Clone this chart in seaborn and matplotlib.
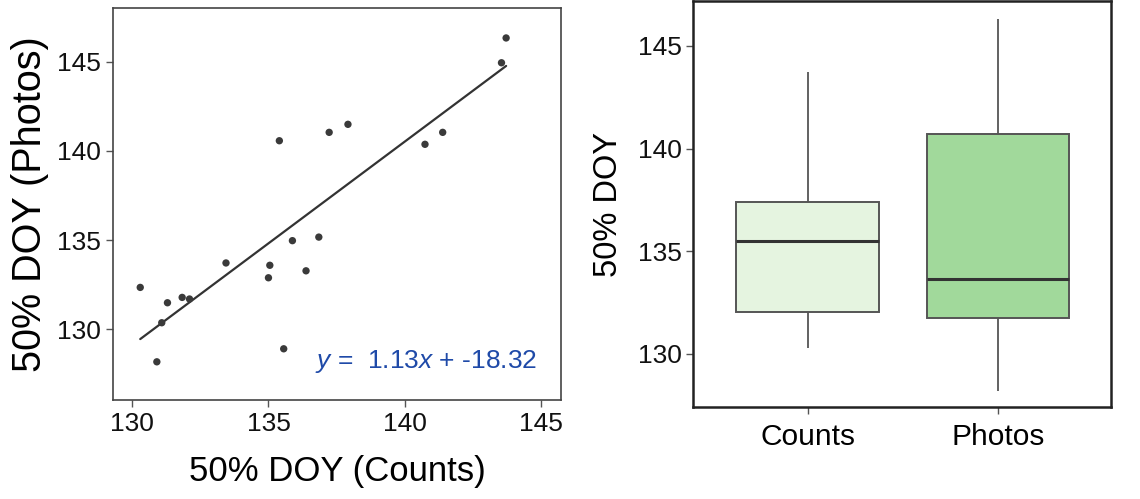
import numpy as np
import pandas as pd
import matplotlib
matplotlib.use("Agg")
import matplotlib.pyplot as plt
import seaborn as sns

# ---- data ----
counts_doy = [130.29, 130.90, 131.08, 131.29, 131.83, 132.10, 133.44, 135.00, 135.05, 135.40,
              135.56, 135.88, 136.38, 136.85, 137.23, 137.92, 140.75, 141.40, 143.56, 143.73]
photos_doy = [132.35, 128.18, 130.37, 131.49, 131.79, 131.70, 133.72, 132.89, 133.59, 140.57,
              128.91, 134.97, 133.28, 135.17, 141.04, 141.49, 140.37, 141.04, 144.94, 146.33]
box_categories = ["Counts", "Photos"]
box_colors = ["#e5f4e0", "#a1d99b"]
tick_vals = [130, 135, 140, 145]
equation_label = r"$\mathit{y}$ =  1.13$\mathit{x}$ + -18.32"

sns.set_theme(style="white")
plt.rcParams['font.family'] = ['Liberation Sans', 'DejaVu Sans']
plt.rcParams['mathtext.fontset'] = 'custom'
plt.rcParams['mathtext.rm'] = 'Liberation Sans'
plt.rcParams['mathtext.it'] = 'Liberation Sans:italic'

fig = plt.figure(figsize=(11.4, 4.99), dpi=100)
ax1 = fig.add_axes([0.0989, 0.1984, 0.3933, 0.7856])
ax2 = fig.add_axes([0.6082, 0.1838, 0.3664, 0.8142])

# ---- left: scatter + regression ----
df = pd.DataFrame({"Counts": counts_doy, "Photos": photos_doy})
sns.regplot(data=df, x="Counts", y="Photos", ax=ax1, scatter=False, ci=None,
            line_kws=dict(color="#333333", lw=1.6))
sns.scatterplot(data=df, x="Counts", y="Photos", ax=ax1, color="#3a3a3a",
                s=28, edgecolor="none", zorder=3)
ax1.set_xlim(129.28, 145.75)
ax1.set_ylim(126.04, 148.01)
ax1.set_xticks(tick_vals)
ax1.set_yticks(tick_vals)
ax1.tick_params(axis="both", labelsize=19, colors="#111111", length=5, width=1,
                direction="out", left=True, bottom=True, color="#555555")
ax1.set_xlabel("50% DOY (Counts)", fontsize=25, color="black", labelpad=14)
ax1.set_ylabel("50% DOY (Photos)", fontsize=28.5, color="black", labelpad=6)
for sp in ax1.spines.values():
    sp.set_color("#444444")
    sp.set_linewidth(1.2)
ax1.text(144.87, 127.83, equation_label, color="#1f4aa8", fontsize=19,
         ha="right", va="baseline")

# ---- right: boxplot ----
long_df = pd.DataFrame({
    "Method": [box_categories[0]] * len(counts_doy) + [box_categories[1]] * len(photos_doy),
    "DOY": counts_doy + photos_doy,
})
sns.boxplot(data=long_df, x="Method", y="DOY", hue="Method", order=box_categories,
            palette=box_colors, saturation=1, legend=False, width=0.75, ax=ax2,
            linecolor="#555555", linewidth=1.4, showfliers=False,
            medianprops=dict(color="#333333", linewidth=2.2),
            whiskerprops=dict(color="#555555", linewidth=1.3),
            capprops=dict(linewidth=0))
ax2.set_xlim(-0.602, 1.596)
ax2.set_ylim(127.40, 147.19)
ax2.set_yticks(tick_vals)
ax2.tick_params(axis="y", labelsize=19, colors="#111111", length=5, width=1,
                left=True, color="#555555")
ax2.tick_params(axis="x", labelsize=21.5, colors="black", length=5, width=1,
                bottom=True, color="#555555", pad=6)
ax2.set_xlabel("")
ax2.set_ylabel("50% DOY", fontsize=23.5, color="black", labelpad=10)
for sp in ax2.spines.values():
    sp.set_color("#222222")
    sp.set_linewidth(1.8)

fig.savefig("out.png", dpi=100)
